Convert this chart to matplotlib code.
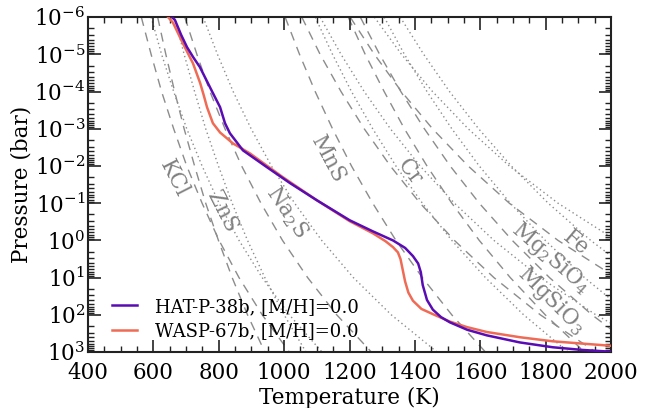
import numpy as np
import matplotlib
matplotlib.use("Agg")
import matplotlib.pyplot as plt
from matplotlib.ticker import FixedLocator, LogLocator, NullFormatter, MultipleLocator

plt.rcParams['font.family'] = ['DejaVu Serif']
plt.rcParams['mathtext.fontset'] = 'dejavuserif'

# ---- P-T profiles (T in K, log10 P in bar) ----
hat_T = [657, 666, 685, 703, 722, 742, 762, 782, 804, 819, 834, 874, 947, 1018, 1100,
         1201, 1270, 1333, 1370, 1394, 1410, 1418, 1424, 1437, 1455, 1480, 1507, 1560,
         1620, 1721, 1822, 1910, 2000]
hat_logP = [-6.0, -5.92, -5.52, -5.19, -4.92, -4.66, -4.31, -3.96, -3.58, -3.15, -2.88,
            -2.42, -1.97, -1.54, -1.08, -0.54, -0.25, 0.00, 0.20, 0.42, 0.62, 0.85,
            1.20, 1.60, 1.86, 2.06, 2.20, 2.40, 2.55, 2.74, 2.87, 2.94, 2.99]

wasp_T = [645, 660, 690, 721, 743, 754, 764, 782, 804, 843, 895, 996, 1100, 1200,
          1272, 1310, 1333, 1348, 1356, 1363, 1370, 1380, 1394, 1420, 1455, 1507,
          1560, 1620, 1721, 1822, 1910, 2000]
wasp_logP = [-6.0, -5.85, -5.30, -4.76, -4.23, -3.90, -3.58, -3.15, -2.90, -2.61, -2.34,
             -1.70, -1.08, -0.52, -0.19, 0.02, 0.18, 0.32, 0.50, 0.80, 1.10, 1.40,
             1.62, 1.84, 1.98, 2.18, 2.33, 2.46, 2.60, 2.71, 2.77, 2.83]

# ---- condensation curves: T (K) at log10 P = -6 ... 3 ----
cond_logP = [-6, -5, -4, -3, -2, -1, 0, 1, 2, 3]
species = ['KCl', 'ZnS', 'Na2S', 'MnS', 'Cr', 'MgSiO3', 'Mg2SiO4', 'Fe']
cond_T_solar = {   # [M/H] = 0 (dashed)
    'KCl':     [563, 593, 625, 662, 702, 749, 801, 862, 933, 1016],
    'ZnS':     [613, 638, 665, 694, 726, 760, 799, 841, 888, 941],
    'Na2S':    [696, 733, 773, 819, 870, 929, 995, 1072, 1161, 1267],
    'MnS':     [1003, 1047, 1095, 1148, 1206, 1271, 1342, 1423, 1513, 1616],
    'Cr':      [1054, 1110, 1174, 1245, 1325, 1416, 1521, 1642, 1784, 1954],
    'MgSiO3':  [1196, 1248, 1306, 1368, 1437, 1513, 1597, 1692, 1799, 1919],
    'Mg2SiO4': [1233, 1292, 1357, 1429, 1508, 1597, 1698, 1812, 1942, 2092],
    'Fe':      [1202, 1276, 1359, 1454, 1563, 1689, 1838, 2016, 2232, 2500],
}
cond_T_enh = {     # [M/H] = +1 (dotted)
    'KCl':     [593, 625, 662, 702, 749, 801, 862, 933, 1016, 1116],
    'ZnS':     [665, 694, 726, 760, 799, 841, 888, 941, 1000, 1067],
    'Na2S':    [752, 796, 844, 899, 961, 1032, 1115, 1212, 1328, 1468],
    'MnS':     [1095, 1148, 1206, 1271, 1342, 1423, 1513, 1616, 1733, 1869],
    'Cr':      [1110, 1174, 1245, 1325, 1416, 1521, 1642, 1784, 1954, 2159],
    'MgSiO3':  [1306, 1368, 1437, 1513, 1597, 1692, 1799, 1919, 2058, 2217],
    'Mg2SiO4': [1355, 1427, 1506, 1595, 1695, 1808, 1938, 2088, 2262, 2469],
    'Fe':      [1276, 1359, 1454, 1563, 1689, 1838, 2016, 2232, 2500, 2841],
}

# species labels: text, T, log10 P, rotation
lab_text = ['KCl', 'ZnS', r'Na$_2$S', 'MnS', 'Cr', r'Mg$_2$SiO$_4$', r'MgSiO$_3$', 'Fe']
lab_T = [663, 810, 1009, 1134, 1385, 1816, 1816, 1892]
lab_logP = [-1.67, -0.76, -0.76, -2.16, -1.83, 0.48, 1.61, 0.075]
lab_rot = [-63, -63, -56, -62, -53, -41, -45, -40]

series_names = ['HAT-P-38b, [M/H]=0.0', 'WASP-67b, [M/H]=0.0']
series_colors = ['#5a0cb4', '#ef6b55']

fig = plt.figure(figsize=(6.57, 4.08), dpi=100)
ax = fig.add_axes([0.134, 0.137, 0.796, 0.821])

cond_P = 10.0 ** np.array(cond_logP)
for sp in species:
    ax.plot(cond_T_solar[sp], cond_P, color='#8c8c8c', lw=1.0, ls=(0, (6.5, 5)), zorder=1)
    ax.plot(cond_T_enh[sp], cond_P, color='#8c8c8c', lw=1.0, ls=(0, (1, 2.2)), zorder=1)

for t, T, lp, r in zip(lab_text, lab_T, lab_logP, lab_rot):
    ax.text(T, 10 ** lp, t, color='#808080', fontsize=15.5, rotation=r,
            ha='center', va='center', rotation_mode='anchor', zorder=2)

ax.plot(hat_T, 10.0 ** np.array(hat_logP), color=series_colors[0], lw=1.8,
        label=series_names[0], zorder=4)
ax.plot(wasp_T, 10.0 ** np.array(wasp_logP), color=series_colors[1], lw=1.8,
        label=series_names[1], zorder=3)

ax.set_yscale('log')
ax.set_xlim(400, 2000)
ax.set_ylim(1e3, 1e-6)
ax.xaxis.set_major_locator(MultipleLocator(200))
ax.xaxis.set_minor_locator(MultipleLocator(50))
yt = [10.0 ** k for k in range(-6, 4)]
ax.yaxis.set_major_locator(FixedLocator(yt))
ax.yaxis.set_minor_locator(LogLocator(base=10, subs=np.arange(2, 10), numticks=20))
ax.yaxis.set_minor_formatter(NullFormatter())
ax.set_yticklabels([r'$10^{%d}$' % k for k in range(-6, 4)])

ax.tick_params(which='both', direction='in', top=True, right=True, labelsize=15.5,
               color='#222222')
ax.tick_params(which='major', length=9, width=1.2)
ax.tick_params(which='minor', length=4.5, width=1.0)
ax.tick_params(axis='y', which='major', pad=2)
ax.tick_params(axis='x', which='major', pad=7)
for s in ax.spines.values():
    s.set_linewidth(1.5)
    s.set_color('#222222')

ax.set_xlabel('Temperature (K)', fontsize=15.5, labelpad=2)
ax.set_ylabel('Pressure (bar)', fontsize=15.5, labelpad=1)

leg = ax.legend(loc='lower left', bbox_to_anchor=(0.015, -0.012), frameon=False,
                fontsize=13, handlelength=1.4, handletextpad=1.0, labelspacing=0.35)

fig.savefig('out.png', dpi=100)
